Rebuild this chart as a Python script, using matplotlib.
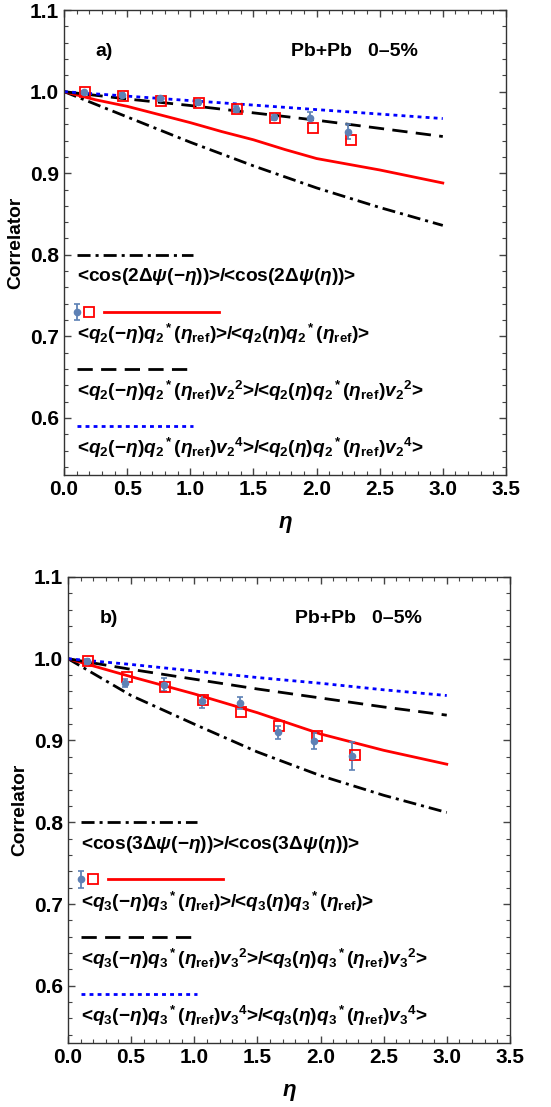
import numpy as np
import matplotlib
matplotlib.use('Agg')
import matplotlib.pyplot as plt
from matplotlib.ticker import MultipleLocator

plt.rcParams['font.family'] = ['Liberation Sans', 'DejaVu Sans']
plt.rcParams['font.weight'] = 'bold'
plt.rcParams['mathtext.fontset'] = 'custom'
plt.rcParams['mathtext.rm'] = 'Liberation Sans:bold'
plt.rcParams['mathtext.it'] = 'Liberation Sans:bold:italic'
plt.rcParams['mathtext.bf'] = 'Liberation Sans:bold'
plt.rcParams['lines.scale_dashes'] = False

# ---- panel a) (n=2) ----
eta_a = [0.0, 0.5, 1.0, 1.5, 2.0, 2.5, 3.0]
cos_a = [1.0, 0.969, 0.938, 0.909, 0.882, 0.858, 0.836]
eta_red_a = [0.0, 0.25, 0.5, 0.75, 1.0, 1.25, 1.5, 1.75, 2.0, 2.25, 2.5, 2.75, 3.0]
q_a = [1.0, 0.99, 0.982, 0.972, 0.962, 0.951, 0.941, 0.929, 0.918, 0.911, 0.904, 0.896, 0.888]
v2_a = [1.0, 0.991, 0.983, 0.974, 0.965, 0.955, 0.945]
v4_a = [1.0, 0.9945, 0.989, 0.9835, 0.978, 0.9725, 0.967]
pts_x_a = [0.16, 0.46, 0.76, 1.06, 1.36, 1.66, 1.95, 2.25]
pts_y_a = [0.999, 0.996, 0.992, 0.987, 0.979, 0.969, 0.968, 0.951]
pts_e_a = [0.002, 0.002, 0.003, 0.003, 0.004, 0.004, 0.007, 0.009]
sq_x_a = [0.17, 0.47, 0.77, 1.07, 1.37, 1.67, 1.97, 2.27]
sq_y_a = [0.999, 0.995, 0.988, 0.986, 0.979, 0.968, 0.956, 0.941]

# ---- panel b) (n=3) ----
eta_b = [0.0, 0.5, 1.0, 1.5, 2.0, 2.5, 3.0]
cos_b = [1.0, 0.955, 0.92, 0.886, 0.857, 0.833, 0.812]
eta_red_b = [0.0, 0.5, 1.0, 1.5, 2.0, 2.5, 3.0]
q_b = [1.0, 0.978, 0.957, 0.934, 0.908, 0.888, 0.871]
v2_b = [1.0, 0.987, 0.975, 0.963, 0.952, 0.941, 0.931]
v4_b = [1.0, 0.993, 0.985, 0.977, 0.970, 0.962, 0.955]
pts_x_b = [0.15, 0.45, 0.76, 1.06, 1.36, 1.66, 1.95, 2.25]
pts_y_b = [0.997, 0.970, 0.968, 0.948, 0.946, 0.910, 0.899, 0.881]
pts_e_b = [0.003, 0.005, 0.008, 0.008, 0.007, 0.008, 0.010, 0.017]
sq_x_b = [0.16, 0.47, 0.77, 1.07, 1.37, 1.67, 1.97, 2.27]
sq_y_b = [0.997, 0.978, 0.966, 0.949, 0.935, 0.918, 0.905, 0.882]

labels_a = [r'<cos(2$\Delta\psi$(−$\eta$))>/<cos(2$\Delta\psi$($\eta$))>',
            r'<$q_2$(−$\eta$)${q_2}^*$($\eta_{\rm ref}$)>/<$q_2$($\eta$)${q_2}^*$($\eta_{\rm ref}$)>',
            r'<$q_2$(−$\eta$)${q_2}^*$($\eta_{\rm ref}$)${v_2}^2$>/<$q_2$($\eta$)${q_2}^*$($\eta_{\rm ref}$)${v_2}^2$>',
            r'<$q_2$(−$\eta$)${q_2}^*$($\eta_{\rm ref}$)${v_2}^4$>/<$q_2$($\eta$)${q_2}^*$($\eta_{\rm ref}$)${v_2}^4$>']
labels_b = [r'<cos(3$\Delta\psi$(−$\eta$))>/<cos(3$\Delta\psi$($\eta$))>',
            r'<$q_3$(−$\eta$)${q_3}^*$($\eta_{\rm ref}$)>/<$q_3$($\eta$)${q_3}^*$($\eta_{\rm ref}$)>',
            r'<$q_3$(−$\eta$)${q_3}^*$($\eta_{\rm ref}$)${v_3}^2$>/<$q_3$($\eta$)${q_3}^*$($\eta_{\rm ref}$)${v_3}^2$>',
            r'<$q_3$(−$\eta$)${q_3}^*$($\eta_{\rm ref}$)${v_3}^4$>/<$q_3$($\eta$)${q_3}^*$($\eta_{\rm ref}$)${v_3}^4$>']

ptcol = '#5E81B5'
dd = (0, (9.4, 3.6, 2.2, 3.6))
ds = (0, (11, 6))
dt = (0, (2.8, 3.0))
lw = 2.0
fs_leg = 13.8


def panel(ax, tag, eta, cosv, eta_r, qv, v2, v4, px, py, pe, sx, sy, labels):
    ax.plot(eta, cosv, color='black', lw=lw, linestyle=dd)
    ax.plot(eta_r, qv, color='red', lw=lw)
    ax.plot(eta, v2, color='black', lw=lw, linestyle=ds)
    ax.plot(eta, v4, color='blue', lw=lw, linestyle=dt)
    ax.errorbar(px, py, yerr=pe, fmt='o', color=ptcol, ms=4.5, capsize=2.0, elinewidth=1.3, capthick=1.2)
    ax.plot(sx, sy, 's', mfc='none', mec='red', ms=6.5, mew=1.3)

    # legend drawn by hand inside the frame
    ax.plot([0.1, 1.02], [0.8, 0.8], color='black', lw=lw, linestyle=dd)
    ax.text(0.1, 0.773, labels[0], fontsize=fs_leg, va='center', ha='left')
    ax.errorbar([0.1], [0.73], yerr=[0.01], fmt='o', color=ptcol, ms=4.5, capsize=2.0, elinewidth=1.3, capthick=1.2)
    ax.plot([0.2], [0.73], 's', mfc='none', mec='red', ms=6.5, mew=1.3)
    ax.plot([0.32, 1.23], [0.73, 0.73], color='red', lw=lw)
    ax.text(0.1, 0.703, labels[1], fontsize=fs_leg, va='center', ha='left')
    ax.plot([0.1, 1.02], [0.66, 0.66], color='black', lw=lw, linestyle=ds)
    ax.text(0.1, 0.633, labels[2], fontsize=fs_leg, va='center', ha='left')
    ax.plot([0.1, 1.02], [0.59, 0.59], color='blue', lw=lw, linestyle=dt)
    ax.text(0.1, 0.563, labels[3], fontsize=fs_leg, va='center', ha='left')

    ax.text(0.32, 1.049, tag, fontsize=14, fontweight='bold', ha='center', va='center')
    ax.text(2.30, 1.049, 'Pb+Pb   0–5%', fontsize=14, fontweight='bold', ha='center', va='center')

    ax.set_xlim(0, 3.5)
    ax.set_ylim(0.53, 1.1)
    ax.xaxis.set_minor_locator(MultipleLocator(0.1))
    ax.yaxis.set_minor_locator(MultipleLocator(0.02))
    ax.set_xticks(np.arange(0, 3.51, 0.5))
    ax.set_xticklabels(['%.1f' % v for v in np.arange(0, 3.51, 0.5)])
    ax.set_yticks([0.6, 0.7, 0.8, 0.9, 1.0, 1.1])
    ax.set_yticklabels(['0.6', '0.7', '0.8', '0.9', '1.0', '1.1'])
    ax.tick_params(which='both', direction='in', top=True, right=True, labelsize=15, color='#444444')
    ax.tick_params(which='major', length=5, width=1.0)
    ax.tick_params(which='minor', length=3, width=0.8)
    for lab in ax.get_xticklabels() + ax.get_yticklabels():
        lab.set_fontweight('bold')
    for s in ax.spines.values():
        s.set_color('#333333')
        s.set_linewidth(1.0)
    ax.set_xlabel(r'$\eta$', fontsize=16, labelpad=11)
    ax.set_ylabel('Correlator', fontsize=13.8, fontweight='bold', labelpad=4)


fig = plt.figure(figsize=(5.51, 11.07), dpi=100)
ax1 = fig.add_axes([0.1162, 0.5709, 0.802, 0.420])
ax2 = fig.add_axes([0.1234, 0.0578, 0.802, 0.421])

panel(ax1, 'a)', eta_a, cos_a, eta_red_a, q_a, v2_a, v4_a, pts_x_a, pts_y_a, pts_e_a, sq_x_a, sq_y_a, labels_a)
panel(ax2, 'b)', eta_b, cos_b, eta_red_b, q_b, v2_b, v4_b, pts_x_b, pts_y_b, pts_e_b, sq_x_b, sq_y_b, labels_b)

fig.savefig('out.png', dpi=100)
